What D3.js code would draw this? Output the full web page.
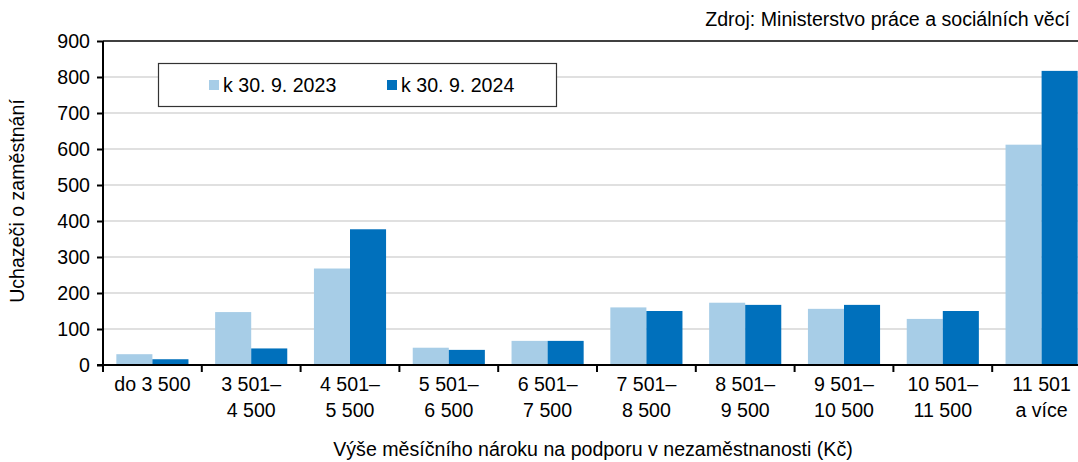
<!DOCTYPE html>
<html>
<head>
<meta charset="utf-8">
<script src="https://cdn.jsdelivr.net/npm/d3@7"></script>
<style>
    body { margin: 0; background: #fff; }
    svg { display: block; font-family: "Liberation Sans", Arial, sans-serif; }
</style>
</head>
<body>
<svg id="chart" width="1078" height="462"></svg>
<script>
// data
var categories = ["do 3 500", "3 501–|4 500", "4 501–|5 500", "5 501–|6 500", "6 501–|7 500",
    "7 501–|8 500", "8 501–|9 500", "9 501–|10 500", "10 501–|11 500", "11 501|a více"];
var series_names = ["k 30. 9. 2023", "k 30. 9. 2024"];
var values_2023 = [30, 147, 268, 48, 67, 160, 173, 156, 128, 612];
var values_2024 = [16, 46, 377, 42, 67, 150, 167, 167, 150, 817];
var y_ticks = [0, 100, 200, 300, 400, 500, 600, 700, 800, 900];
var colors = ["#a7cde7", "#0070bc"];
var fs = "19.6px";

var svg = d3.select("#chart");
var p_left = 103, p_right = 1091, p_top = 41, p_bottom = 365;

var x = d3.scaleBand().domain(d3.range(categories.length)).range([p_left, p_right])
    .paddingInner(0.27).paddingOuter(0.135);
var xs = d3.scaleBand().domain([0, 1]).range([0, x.bandwidth()]);
var y = d3.scaleLinear().domain([0, 900]).range([p_bottom, p_top]);

// gridlines
svg.append("g").selectAll("line").data(y_ticks.filter(function (d) { return d > 0 && d < 900; }))
    .enter().append("line")
    .attr("x1", p_left).attr("x2", 1078)
    .attr("y1", function (d) { return y(d); }).attr("y2", function (d) { return y(d); })
    .style("stroke", "#d6d6d6").style("stroke-width", 1.5);

// top frame line
svg.append("line").attr("x1", p_left).attr("x2", 1078).attr("y1", p_top).attr("y2", p_top)
    .style("stroke", "#000").style("stroke-width", 1.5);

// bars
var series = [values_2023, values_2024];
series.forEach(function (vals, s) {
    svg.append("g").selectAll("rect").data(vals).enter().append("rect")
        .attr("x", function (d, i) { return x(i) + xs(s); })
        .attr("width", xs.bandwidth())
        .attr("y", function (d) { return y(d); })
        .attr("height", function (d) { return y(0) - y(d); })
        .style("fill", colors[s]);
});

// y axis
var yAxis = svg.append("g").attr("transform", "translate(" + p_left + ",0)")
    .call(d3.axisLeft(y).tickValues(y_ticks).tickSize(6).tickPadding(7));
yAxis.select(".domain").attr("d", "M0," + p_top + "V" + p_bottom).style("stroke-width", 2);
yAxis.selectAll(".tick line").style("stroke-width", 2);
yAxis.selectAll("text").style("font-size", fs).style("fill", "#000")
    .attr("font-family", "Liberation Sans, Arial, sans-serif");

// x axis with ticks at category boundaries
var xAxis = svg.append("g");
xAxis.append("line").attr("x1", p_left - 6).attr("x2", 1078).attr("y1", p_bottom).attr("y2", p_bottom)
    .style("stroke", "#000").style("stroke-width", 2);
xAxis.selectAll(".bnd").data(d3.range(categories.length)).enter().append("line")
    .attr("class", "bnd")
    .attr("x1", function (i) { return x(i) - x.step() * x.paddingOuter(); })
    .attr("x2", function (i) { return x(i) - x.step() * x.paddingOuter(); })
    .attr("y1", p_bottom).attr("y2", p_bottom + 7)
    .style("stroke", "#000").style("stroke-width", 2);

var labels = xAxis.selectAll(".lbl").data(categories).enter().append("text")
    .attr("class", "lbl")
    .attr("text-anchor", "middle")
    .attr("transform", function (d, i) { return "translate(" + (x(i) + x.bandwidth() / 2) + ",391)"; })
    .style("font-size", fs);
labels.each(function (d) {
    var t = d3.select(this);
    d.split("|").forEach(function (line, k) {
        t.append("tspan").attr("x", 0).attr("dy", k === 0 ? 0 : 26).text(line);
    });
});

// axis titles
svg.append("text").attr("transform", "translate(24,201) rotate(-90)")
    .attr("text-anchor", "middle").style("font-size", fs).text("Uchazeči o zaměstnání");
svg.append("text").attr("x", 593).attr("y", 456)
    .attr("text-anchor", "middle").style("font-size", fs)
    .text("Výše měsíčního nároku na podporu v nezaměstnanosti (Kč)");

// source
svg.append("text").attr("x", 1070).attr("y", 26)
    .attr("text-anchor", "end").style("font-size", fs)
    .text("Zdroj: Ministerstvo práce a sociálních věcí");

// legend
var legend = svg.append("g");
legend.append("rect").attr("x", 158.5).attr("y", 63.5).attr("width", 398).attr("height", 43)
    .style("fill", "#fff").style("stroke", "#333").style("stroke-width", 1.2);
var lx = [209, 387];
series_names.forEach(function (name, s) {
    legend.append("rect").attr("x", lx[s]).attr("y", 80).attr("width", 10).attr("height", 10)
        .style("fill", colors[s]);
    legend.append("text").attr("x", lx[s] + 14).attr("y", 92).style("font-size", fs).text(name);
});
</script>
</body>
</html>
